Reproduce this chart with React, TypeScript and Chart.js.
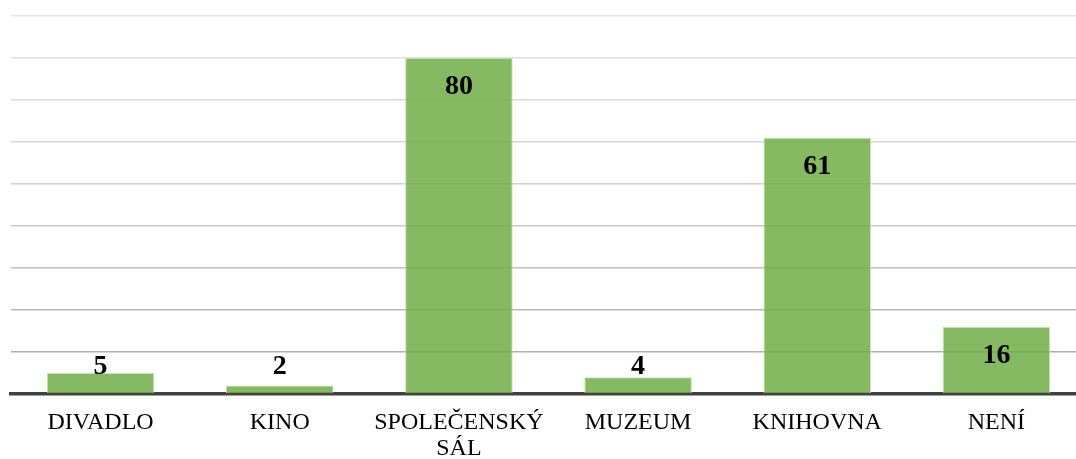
import React, { useEffect, useRef } from "react";
import { Chart, registerables } from "chart.js";

Chart.register(...registerables);

const categories: (string | string[])[] = ["DIVADLO", "KINO", ["SPOLEČENSKÝ", "SÁL"], "MUZEUM", "KNIHOVNA", "NENÍ"];
const values: number[] = [5, 2, 80, 4, 61, 16];
const yMin = 0;
const yMax = 90;
const yStep = 10;

const gridColors = ["#a9a9a9", "#b0b0b0", "#b8b8b8", "#c0c0c0", "#c8c8c8", "#d0d0d0", "#d7d7d7", "#dcdcdc", "#e1e1e1", "#e6e6e6"];

const valueLabels = {
  id: "valueLabels",
  afterDatasetsDraw(chart: any) {
    const ctx = chart.ctx;
    const meta = chart.getDatasetMeta(0);
    ctx.save();
    ctx.font = "bold 28px 'Liberation Serif', 'Times New Roman', serif";
    ctx.fillStyle = "#000000";
    ctx.textAlign = "center";
    ctx.textBaseline = "middle";
    meta.data.forEach((el: any, i: number) => {
      const y = Math.min(el.y + 29, el.base - 26);
      ctx.fillText(String(values[i]), el.x, y);
    });
    ctx.restore();
  },
};

export default function App() {
  const ref = useRef<HTMLCanvasElement | null>(null);
  useEffect(() => {
    if (!ref.current) return;
    const chart = new Chart(ref.current, {
      type: "bar",
      data: {
        labels: categories,
        datasets: [
          {
            data: values,
            backgroundColor: "rgba(112,173,71,0.85)",
            borderColor: "rgba(190,225,170,0.9)",
            borderWidth: 1,
            categoryPercentage: 1,
            barPercentage: 0.6,
          },
        ],
      },
      options: {
        responsive: false,
        animation: false,
        layout: { padding: { left: 11, right: 14, top: 16, bottom: 0 } },
        plugins: { legend: { display: false }, tooltip: { enabled: false } },
        scales: {
          x: {
            grid: { display: false, drawTicks: false },
            border: { display: true, color: "#404040", width: 3.5 },
            ticks: {
              color: "#000000",
              padding: 16,
              maxRotation: 0,
              autoSkip: false,
              font: { family: "'Liberation Serif', 'Times New Roman', serif", size: 24, lineHeight: 1.08 },
            },
            afterFit: (scale: any) => {
              scale.height = 65;
            },
          },
          y: {
            min: yMin,
            max: yMax,
            ticks: { display: false, stepSize: yStep },
            border: { display: false },
            grid: {
              drawTicks: false,
              lineWidth: 1.5,
              color: (c: any) => gridColors[c.index] || "#dddddd",
            },
            afterFit: (scale: any) => {
              scale.width = 0;
            },
          },
        },
      },
      plugins: [valueLabels],
    });
    return () => chart.destroy();
  }, []);
  return (
    <div style={{ position: "fixed", left: 0, top: 0, width: 1076, height: 459, overflow: "hidden", background: "#ffffff" }}>
      <canvas ref={ref} width={1100} height={459} style={{ display: "block" }} />
    </div>
  );
}
